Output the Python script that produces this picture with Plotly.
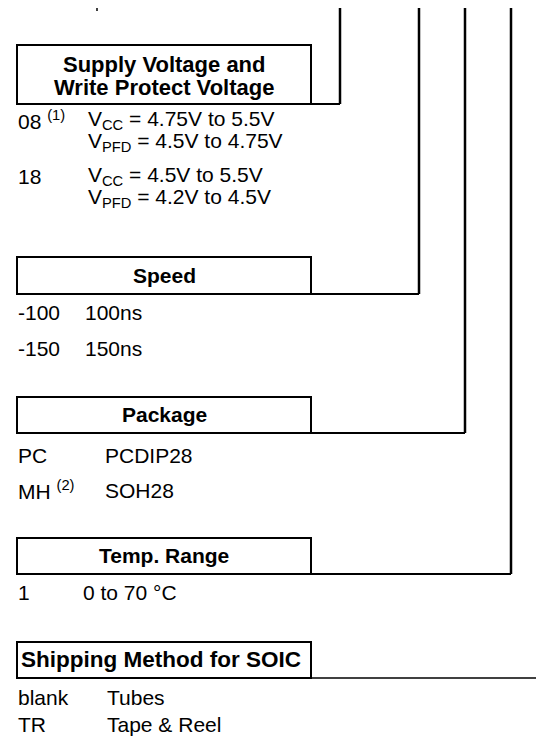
import plotly.graph_objects as go

# ---- content (text data) ----
section_titles = [
    ["Supply Voltage and", "Write Protect Voltage"],
    ["Speed"],
    ["Package"],
    ["Temp. Range"],
    ["Shipping Method for SOIC"],
]
supply_codes = ["08 <sup>(1)</sup>", "", "18", ""]
supply_desc = [
    "V<sub>CC</sub> = 4.75V to 5.5V",
    "V<sub>PFD</sub> = 4.5V to 4.75V",
    "V<sub>CC</sub> = 4.5V to 5.5V",
    "V<sub>PFD</sub> = 4.2V to 4.5V",
]
speed_codes = ["-100", "-150"]
speed_desc = ["100ns", "150ns"]
package_codes = ["PC", "MH <sup>(2)</sup>"]
package_desc = ["PCDIP28", "SOH28"]
temp_codes = ["1"]
temp_desc = ["0 to 70 °C"]
ship_codes = ["blank", "TR"]
ship_desc = ["Tubes", "Tape & Reel"]

# ---- layout geometry (pixel space of the page) ----
W, H = 544, 738
BOX_L, BOX_R = 9, 303
boxes = [  # top, bottom, connector x (vertical line)
    (37, 96, 332),
    (249, 286, 411),
    (389, 425, 457),
    (530, 566, 503),
    (634, 670, None),
]
title_y = [[56, 79], [267], [406], [547], [651]]
title_size = [22, 21, 21, 21, 22.5]
supply_rows_y = [112, 134, 168, 190]
speed_rows_y = [304, 340]
package_rows_y = [447, 482]
temp_rows_y = [584]
ship_rows_y = [689, 716]

FONT = "Liberation Sans, Arial, sans-serif"
fs = 21

fig = go.Figure()
shapes = []
annotations = []

def line(x0, y0, x1, y1, w):
    shapes.append(dict(type="line", x0=x0, x1=x1, y0=y0, y1=y1, xref="x", yref="y",
                       line=dict(color="black", width=w)))

for i, (top, bot, cx) in enumerate(boxes):
    shapes.append(dict(type="rect", x0=BOX_L, x1=BOX_R, y0=top, y1=bot,
                       line=dict(color="black", width=2), xref="x", yref="y"))
    if cx is not None:
        line(BOX_R, bot, cx, bot, 2)
        line(cx, 0, cx, bot, 2.5)
    else:
        line(BOX_R, bot, W, bot, 1.5)
    for t, ty in zip(section_titles[i], title_y[i]):
        if i == 4:
            annotations.append(dict(x=BOX_L + 2, y=ty, text="<b>" + t + "</b>",
                                    xanchor="left", yanchor="middle", showarrow=False,
                                    font=dict(family=FONT, size=title_size[i], color="black")))
        else:
            annotations.append(dict(x=(BOX_L + BOX_R) / 2, y=ty, text="<b>" + t + "</b>",
                                    xanchor="center", yanchor="middle", showarrow=False,
                                    font=dict(family=FONT, size=title_size[i], color="black")))

# small cut-off mark at top (descender of text above the crop)
line(89, 0, 89, 3, 1.5)

def add_rows(codes, descs, ys, x_desc):
    for c, d, y in zip(codes, descs, ys):
        if c:
            annotations.append(dict(x=BOX_L - 1, y=y, text=c, xanchor="left", yanchor="middle",
                                    showarrow=False, font=dict(family=FONT, size=fs, color="black")))
        annotations.append(dict(x=x_desc, y=y, text=d, xanchor="left", yanchor="middle",
                                showarrow=False, font=dict(family=FONT, size=fs, color="black")))

add_rows(supply_codes, supply_desc, supply_rows_y, 78)
add_rows(speed_codes, speed_desc, speed_rows_y, 75)
add_rows(package_codes, package_desc, package_rows_y, 95)
add_rows(temp_codes, temp_desc, temp_rows_y, 73)
add_rows(ship_codes, ship_desc, ship_rows_y, 97)

fig.update_layout(
    width=W, height=H,
    margin=dict(l=0, r=0, t=0, b=0),
    paper_bgcolor="white", plot_bgcolor="white",
    xaxis=dict(range=[0, W], visible=False, fixedrange=True),
    yaxis=dict(range=[H, 0], visible=False, fixedrange=True),
    shapes=shapes, annotations=annotations, showlegend=False,
)
fig.write_html("out.html")
